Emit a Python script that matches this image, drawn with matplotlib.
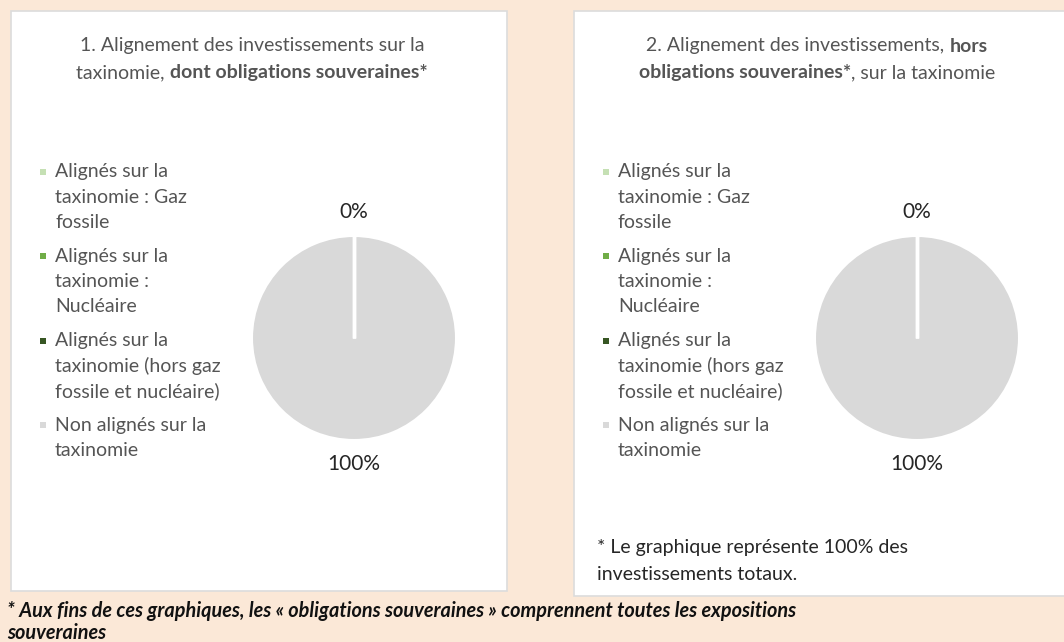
import matplotlib
matplotlib.use("Agg")
import matplotlib.pyplot as plt
from matplotlib.patches import Rectangle
import numpy as np

# ---- data -------------------------------------------------------------
categories = [
    "Alignés sur la\ntaxinomie : Gaz\nfossile",
    "Alignés sur la\ntaxinomie :\nNucléaire",
    "Alignés sur la\ntaxinomie (hors gaz\nfossile et nucléaire)",
    "Non alignés sur la\ntaxinomie",
]
colors = ["#C5E0B4", "#70AD47", "#375623", "#D9D9D9"]

values_with_sovereign = [0, 0, 0, 100]
values_without_sovereign = [0, 0, 0, 100]

title_1 = [
    [("1. Alignement des investissements sur la", "normal")],
    [("taxinomie, ", "normal"), ("dont obligations souveraines*", "bold")],
]
title_2 = [
    [("2. Alignement des investissements, ", "normal"), ("hors", "bold")],
    [("obligations souveraines*", "bold"), (", sur la taxinomie", "normal")],
]
note_right = "* Le graphique représente 100% des\ninvestissements totaux."
note_bottom = ("* Aux fins de ces graphiques, les « obligations souveraines » "
               "comprennent toutes les expositions\nsouveraines")

# ---- figure -----------------------------------------------------------
W, H = 1064, 642
DPI = 100
BG = "#FBE8D7"
FONT = "Lato"
GREY_TXT = "#555555"

fig = plt.figure(figsize=(W / DPI, H / DPI), dpi=DPI, facecolor=BG)
renderer = fig.canvas.get_renderer()


def fx(x):
    return x / W


def fy(y):
    return 1 - y / H


def panel(x0, y0, x1, y1):
    fig.patches.append(Rectangle((fx(x0), fy(y1)), fx(x1 - x0), (y1 - y0) / H,
                                 transform=fig.transFigure, facecolor="white",
                                 edgecolor="#DCDCDC", linewidth=1.2, zorder=-5))


def rich_line(xc, y, segments, size, color):
    """Draw a line made of normal/bold pieces, centred on xc (pixels)."""
    texts = []
    for s, w in segments:
        t = fig.text(0, fy(y), s, fontsize=size, fontweight=w, color=color,
                     family=FONT, va="center", ha="left")
        texts.append(t)
    widths = [t.get_window_extent(renderer).width for t in texts]
    x = xc - sum(widths) / 2
    for t, w in zip(texts, widths):
        t.set_x(fx(x))
        x += w


def legend_block(x, y, size, line_px, gap_px):
    for lab, col in zip(categories, colors):
        lines = lab.split("\n")
        fig.patches.append(Rectangle((fx(x), fy(y + 3)), 6 / W, 6 / H,
                                     transform=fig.transFigure, facecolor=col,
                                     edgecolor="none", zorder=2))
        for i, ln in enumerate(lines):
            fig.text(fx(x + 15), fy(y + i * line_px), ln, fontsize=size,
                     color=GREY_TXT, family=FONT, va="center", ha="left")
        y += len(lines) * line_px + gap_px


def pie_panel(cx, cy, r, values):
    half = 150
    ax = fig.add_axes([fx(cx - half), fy(cy + half), 2 * half / W, 2 * half / H])
    wedges, _ = ax.pie(values, colors=colors, startangle=90, counterclock=False,
                       wedgeprops=dict(edgecolor="white", linewidth=2.2))
    lim = half / r
    ax.set_xlim(-lim, lim)
    ax.set_ylim(-lim, lim)
    ax.set_aspect("equal")
    ax.axis("off")
    total = sum(values)
    # white slice separators (empty slices collapse onto a single radius)
    for w, v in zip(wedges, values):
        if v == 0:
            a = np.deg2rad(w.theta1)
            ax.plot([0, np.cos(a)], [0, np.sin(a)], color="white", lw=2.4,
                    solid_capstyle="butt", zorder=3)
    # one value label per distinct slice direction
    seen = set()
    for w, v in zip(wedges, values):
        mid_deg = (w.theta1 + w.theta2) / 2
        key = int(round(mid_deg)) % 360
        if key in seen:
            continue
        seen.add(key)
        mid = np.deg2rad(mid_deg)
        ax.text(1.23 * np.cos(mid), 1.23 * np.sin(mid),
                f"{100 * v / total:.0f}%", ha="center", va="center",
                fontsize=15, color="#262626", family=FONT)


# panels
panel(11, 11, 507, 591)
panel(574, 11, 1070, 596)

# titles
for i, seg in enumerate(title_1):
    rich_line(252, 46 + i * 26.5, seg, 14, GREY_TXT)
for i, seg in enumerate(title_2):
    rich_line(817, 46 + i * 26.5, seg, 14, GREY_TXT)

# legends
legend_block(40, 172, 14, 25.3, 8.5)
legend_block(603, 172, 14, 25.3, 8.5)

# pies
pie_panel(354, 338, 102.5, values_with_sovereign)
pie_panel(917, 338, 102.5, values_without_sovereign)

# notes
for i, ln in enumerate(note_right.split("\n")):
    fig.text(fx(597), fy(548 + i * 26), ln, fontsize=14, color="#262626",
             family=FONT, va="center", ha="left")
for i, ln in enumerate(note_bottom.split("\n")):
    fig.text(fx(7), fy(611 + i * 22), ln, fontsize=14.3, color="#111111",
             family=FONT, fontweight="bold",
             fontstyle="italic", va="center", ha="left")

fig.savefig("out.png", dpi=DPI, facecolor=BG)
